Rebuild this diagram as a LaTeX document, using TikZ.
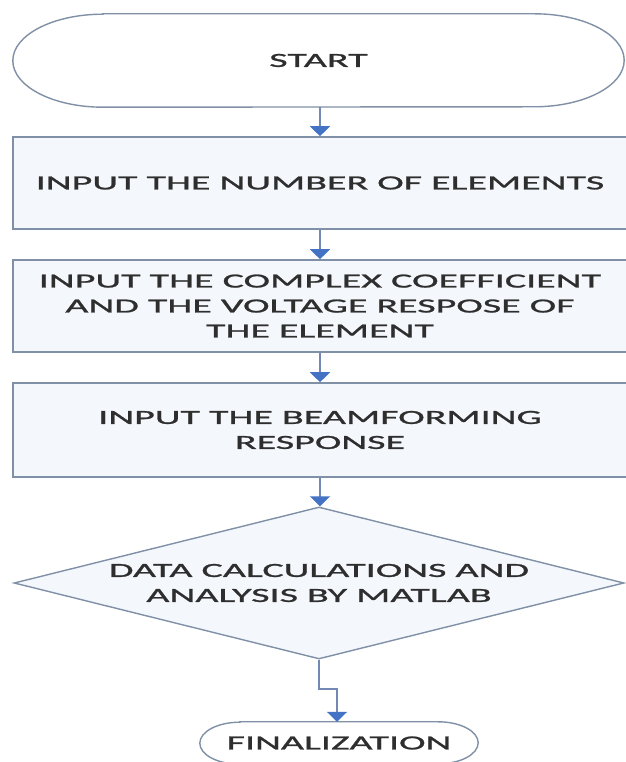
\documentclass[tikz,border=0pt]{standalone}
\usepackage{fontspec}
\setmainfont{Carlito}[FakeStretch=2.0, FakeBold=1.2]
\usetikzlibrary{arrows.meta,shapes.geometric,backgrounds}

\definecolor{edgegray}{HTML}{8090A6}
\definecolor{shaftblue}{HTML}{7389B3}
\definecolor{flowblue}{HTML}{4472C4}
\definecolor{boxfill}{HTML}{F4F7FC}
\definecolor{inkgray}{HTML}{2E2E2E}

% outline of a terminal (stadium) node: #1 node name, #2 x radius, #3 y radius
\newcommand{\stadiumoutline}[3]{%
  \filldraw[termline]
    ([xshift=#2]#1.north west) -- ([xshift=-#2]#1.north east)
    arc[start angle=90, end angle=-90, x radius=#2, y radius=#3]
    -- ([xshift=#2]#1.south west)
    arc[start angle=270, end angle=90, x radius=#2, y radius=#3]
    -- cycle;}

\begin{document}
\begin{tikzpicture}[x=1pt, y=1pt,
  every node/.style={font=\fontsize{20}{25}\selectfont, text=inkgray, align=center},
  termnode/.style={rectangle, inner sep=0pt},
  termline/.style={draw=edgegray, line width=1.4pt, fill=white},
  procbox/.style={rectangle, draw=edgegray, line width=1.6pt, fill=boxfill,
                  minimum width=614pt, inner sep=0pt},
  decision/.style={diamond, draw=edgegray, line width=1.4pt, fill=boxfill,
                   minimum width=610pt, minimum height=152pt, inner sep=0pt},
  flow/.style={draw=shaftblue, line width=2pt,
               -{Triangle[width=20pt, length=10pt, color=flowblue]}}
]
\useasboundingbox (0,0) rectangle (625,762);

% terminals
\node[termnode, minimum width=611pt, minimum height=93pt] (start) at (318.5,701.5) {START};
\node[termnode, minimum width=278pt, minimum height=42pt] (final) at (339,19) {FINALIZATION};

% process steps
\node[procbox, minimum height=92pt] (count) at (320,579) {INPUT THE NUMBER OF ELEMENTS};
\node[procbox, minimum height=92pt] (coeff) at (320,456)
  {INPUT THE COMPLEX COEFFICIENT\\AND THE VOLTAGE RESPOSE OF\\THE ELEMENT};
\node[procbox, minimum height=94pt] (beam) at (320,332) {INPUT THE BEAMFORMING\\RESPONSE};

% decision
\node[decision] (calc) at (319,179) {};
\node (calctext) at (calc.center) {DATA CALCULATIONS AND\\ANALYSIS BY MATLAB};

\begin{scope}[on background layer]
  \stadiumoutline{start}{90pt}{46.5pt}
  \stadiumoutline{final}{40pt}{21pt}
\end{scope}

% connectors
\coordinate (jog) at (319,73);
\draw[flow] (start.south -| count.north) -- (count.north);
\draw[flow] (count.south) -- (coeff.north);
\draw[flow] (coeff.south) -- (beam.north);
\draw[flow] (beam.south) -- (calc.north -| beam.south);
\draw[flow] (calc.south) -- (jog) -| ([xshift=-2pt]final.north);
\end{tikzpicture}
\end{document}
